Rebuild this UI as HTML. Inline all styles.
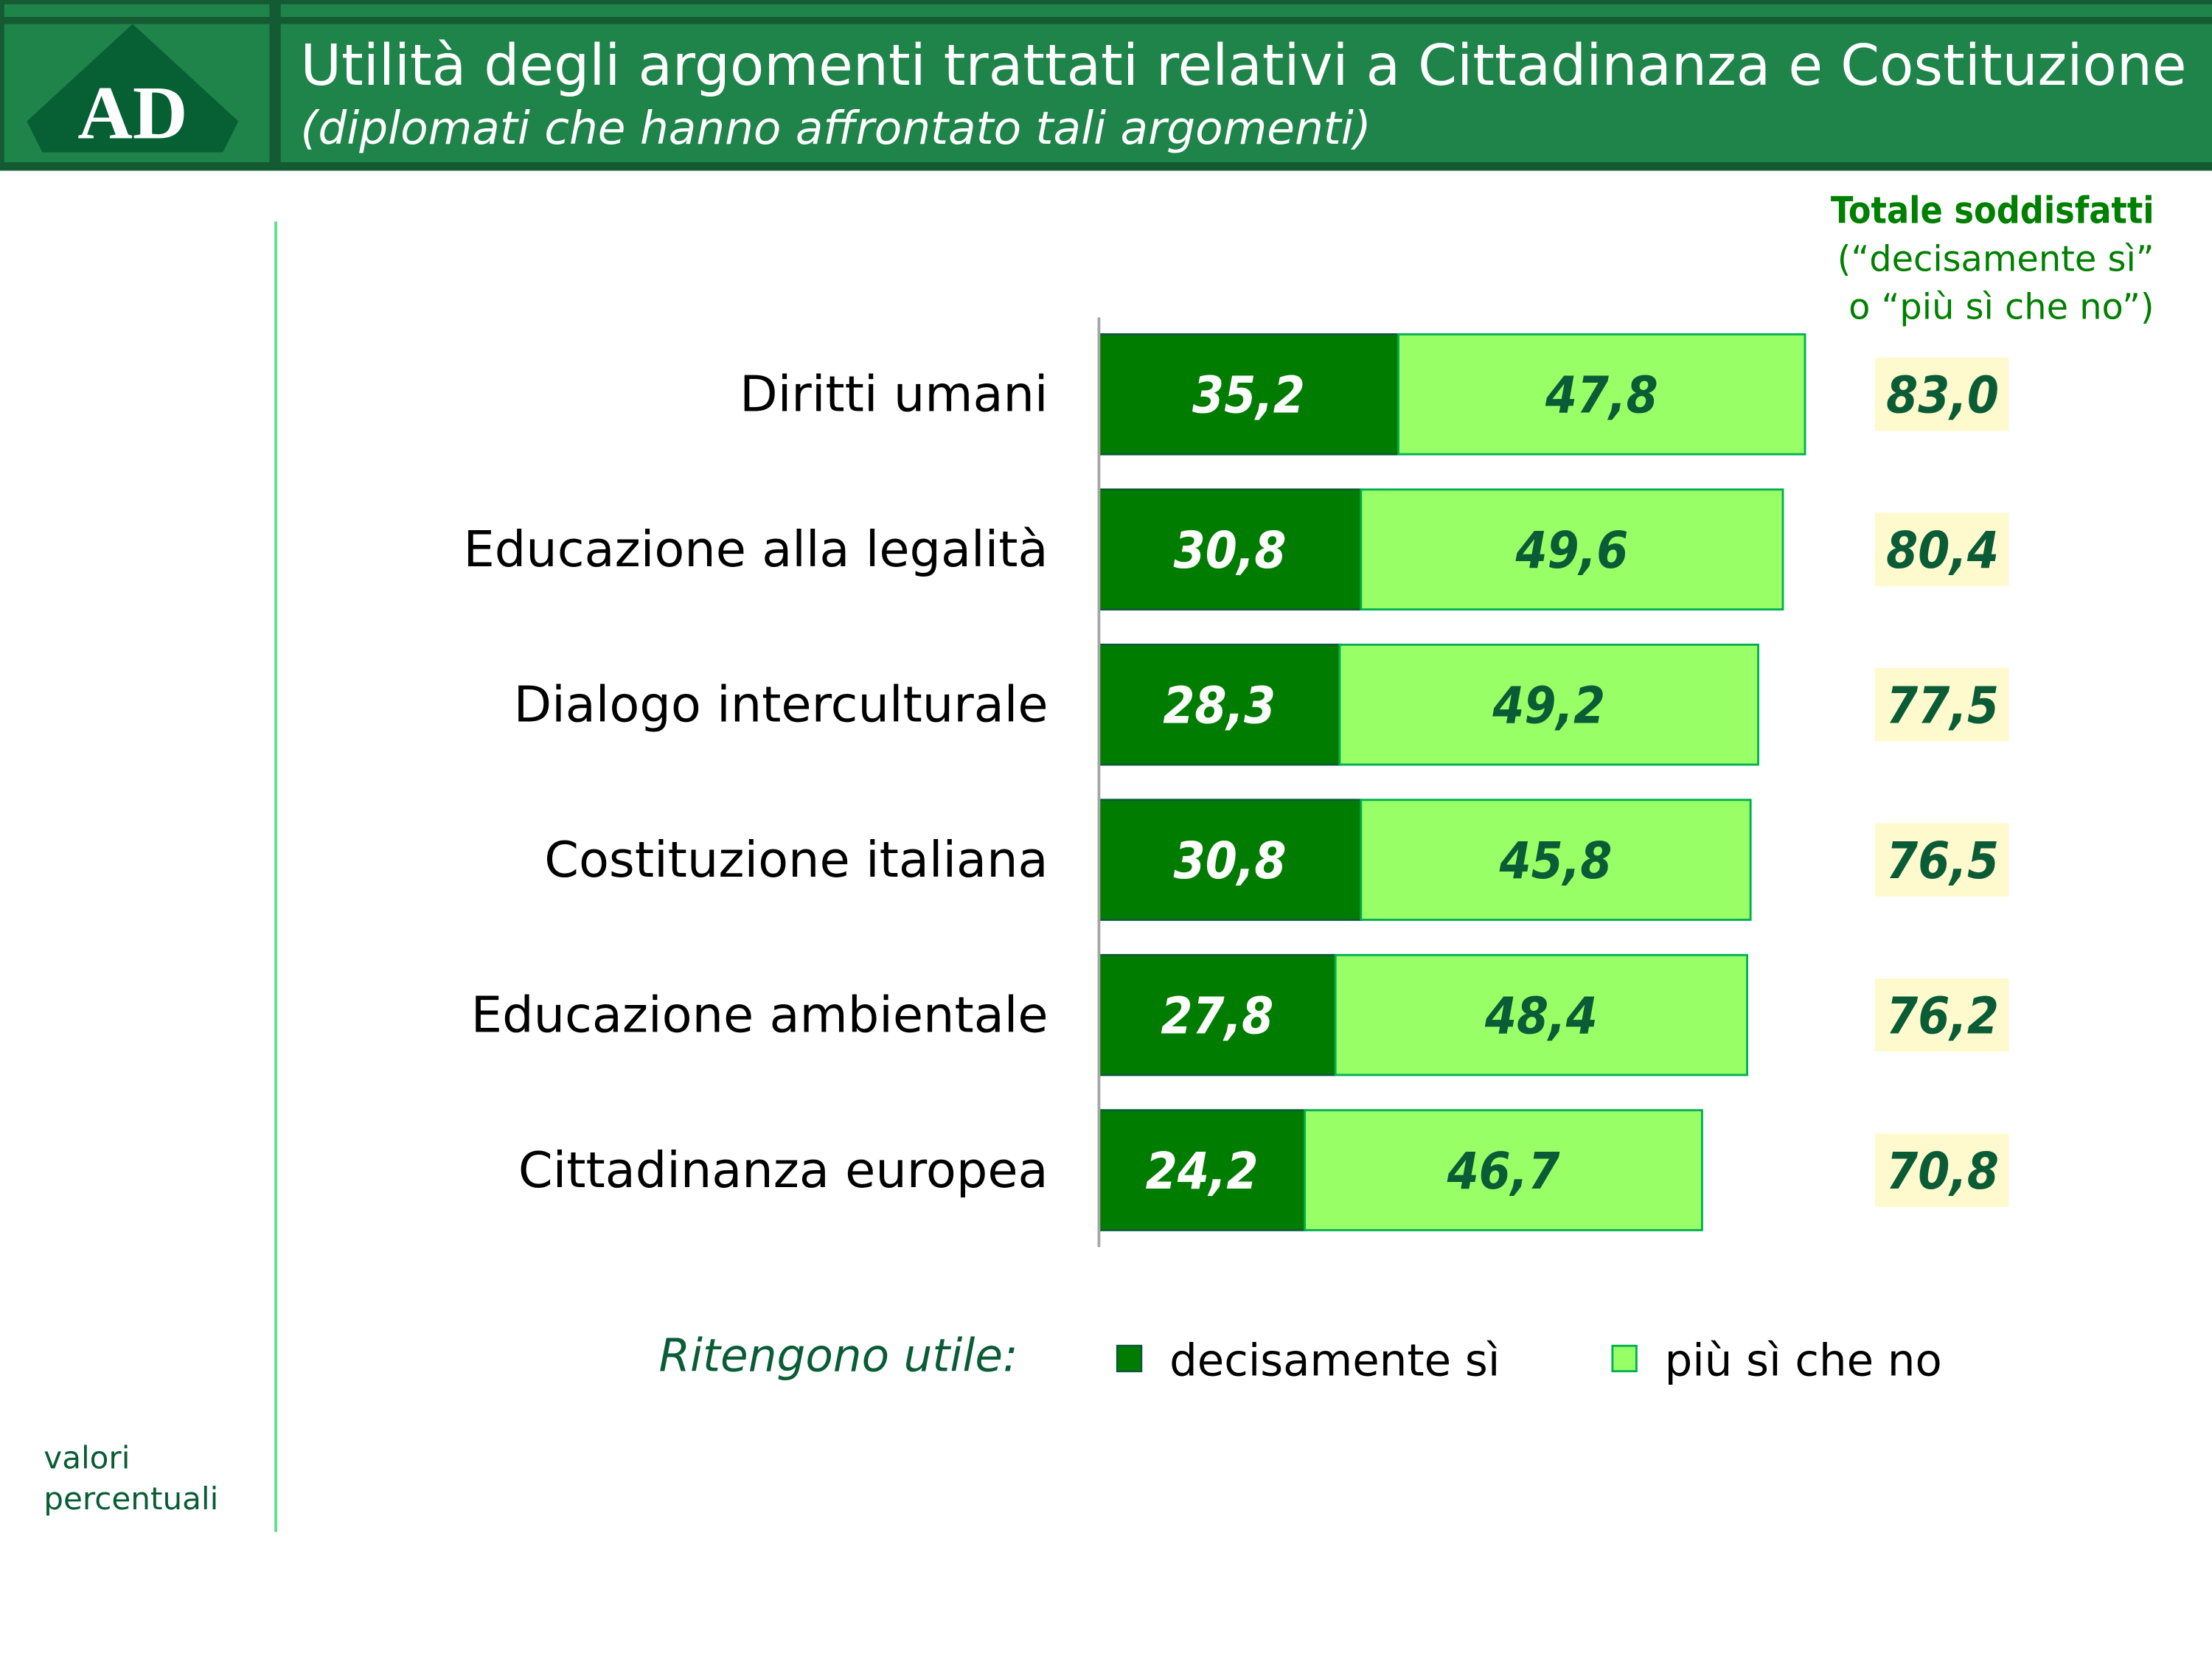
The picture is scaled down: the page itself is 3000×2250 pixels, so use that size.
<!DOCTYPE html>
<html><head><meta charset="utf-8"><style>
html,body{margin:0;padding:0;background:#fff}
svg{display:block}
text{font-family:"DejaVu Sans","Liberation Sans",sans-serif}
.cond{font-family:"DejaVu Sans Condensed","Liberation Sans",sans-serif}
</style></head><body>
<svg width="3000" height="2250" viewBox="0 0 1568 1176" xmlns="http://www.w3.org/2000/svg">
<g>
<rect x="0" y="0" width="1568" height="121" fill="#145a32"/>
<rect x="3" y="3" width="188" height="9" fill="#1f8449"/>
<rect x="199" y="3" width="1369" height="9" fill="#1f8449"/>
<rect x="3" y="17" width="188" height="98" fill="#1f8449"/>
<rect x="199" y="17" width="1369" height="98" fill="#1f8449"/>
<polygon points="94,17 169,86 158,108 30,108 19,86" fill="#066034"/>
<text x="94" y="98" text-anchor="middle" font-weight="bold" font-size="54" fill="#fff" style="font-family:'Liberation Serif',serif">AD</text>
<text x="213" y="60" font-size="40" fill="#fff" textLength="1337" lengthAdjust="spacingAndGlyphs">Utilità degli argomenti trattati relativi a Cittadinanza e Costituzione</text>
<text x="213" y="102" font-size="32" font-style="italic" fill="#fff" textLength="759" lengthAdjust="spacingAndGlyphs">(diplomati che hanno affrontato tali argomenti)</text>
</g>
<line x1="195.5" y1="157" x2="195.5" y2="1086" stroke="#5de08a" stroke-width="2"/>
<text x="31" y="1041" font-size="22" fill="#0a5c36">valori</text>
<text x="31" y="1070" font-size="22" fill="#0a5c36">percentuali</text>
<g fill="#008000" text-anchor="end">
<text class="cond" x="1527" y="158" font-size="26" font-weight="bold">Totale soddisfatti</text>
<text x="1527" y="192" font-size="25">(“decisamente sì”</text>
<text x="1527" y="226" font-size="25">o “più sì che no”)</text>
</g>
<g id="bars"></g>
<line x1="779" y1="225" x2="779" y2="884" stroke="#a6a6a6" stroke-width="2"/>
<g>
<text x="467" y="972" font-size="32" font-style="italic" fill="#0a5c36">Ritengono utile:</text>
<rect x="792" y="954" width="17" height="18" fill="#007d00" stroke="#0a5c36" stroke-width="1.5"/>
<text x="829" y="975" font-size="31" fill="#000">decisamente sì</text>
<rect x="1143" y="954" width="17" height="18" fill="#99ff66" stroke="#00b050" stroke-width="1.5"/>
<text x="1180" y="975" font-size="31" fill="#000">più sì che no</text>
</g>
</svg>
<script>
const categories = ["Diritti umani","Educazione alla legalità","Dialogo interculturale","Costituzione italiana","Educazione ambientale","Cittadinanza europea"];
const decisamente = [35.2,30.8,28.3,30.8,27.8,24.2];
const piuSi = [47.8,49.6,49.2,45.8,48.4,46.7];
const totals = [83.0,80.4,77.5,76.5,76.2,70.8];
const NS = "http://www.w3.org/2000/svg";
const g = document.getElementById("bars");
const x = v => 779 + v * 6.03;
const yTop = i => 237 + i * 110;
const BH = 85;
const fmt = v => v.toFixed(1).replace(".", ",");
function mk(tag, attrs, txt){const e=document.createElementNS(NS,tag);for(const k in attrs)e.setAttribute(k,attrs[k]);if(txt!==undefined)e.textContent=txt;g.appendChild(e);return e;}
categories.forEach((c,i)=>{
  const y=yTop(i), cy=y+BH/2;
  let e=mk("text",{x:743,y:cy+12,"text-anchor":"end","font-size":35,fill:"#000"},c);
  
  
  e=mk("rect",{x:x(0),y:y,width:x(decisamente[i])-x(0),height:BH,fill:"#007d00",stroke:"#0a5c36","stroke-width":1.5});
  
  
  e=mk("rect",{x:x(decisamente[i]),y:y,width:x(decisamente[i]+piuSi[i])-x(decisamente[i]),height:BH,fill:"#99ff66",stroke:"#00b050","stroke-width":1.5});
  
  
  e=mk("text",{class:"cond",x:(x(0)+x(decisamente[i]))/2,y:cy+13,"text-anchor":"middle","font-size":36,"font-weight":"bold","font-style":"italic",fill:"#fff"},fmt(decisamente[i]));
  
  
  e=mk("text",{class:"cond",x:(x(decisamente[i])+x(decisamente[i]+piuSi[i]))/2,y:cy+13,"text-anchor":"middle","font-size":36,"font-weight":"bold","font-style":"italic",fill:"#0a5c36"},fmt(piuSi[i]));
  
  
  e=mk("rect",{x:1329,y:cy-26,width:95,height:52,fill:"#fffacd"});
  
  
  e=mk("text",{class:"cond",x:1377,y:cy+13,"text-anchor":"middle","font-size":36,"font-weight":"bold","font-style":"italic",fill:"#0a5c36"},fmt(totals[i]));
  
  
});
</script>
</body></html>
